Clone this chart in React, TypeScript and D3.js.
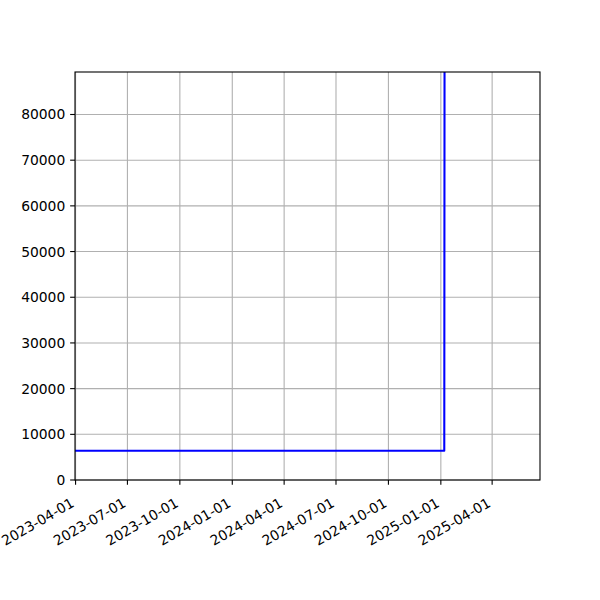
import React, { useRef, useEffect } from 'react';
import * as d3 from 'd3';

// Series
const dates = ['2023-03-31', '2025-01-07', '2025-01-08'];
const values = [6400, 6400, 180000];

// Axis ranges and ticks
const xStart = '2023-03-31';
const xEnd = '2025-06-24';
const xTickDates = [
  '2023-04-01', '2023-07-01', '2023-10-01', '2024-01-01', '2024-04-01',
  '2024-07-01', '2024-10-01', '2025-01-01', '2025-04-01',
];
const yMax = 89300;
const yTicks = [0, 10000, 20000, 30000, 40000, 50000, 60000, 70000, 80000];

export default function App() {
  const svgRef = useRef<SVGSVGElement>(null);

  useEffect(() => {
    if (!svgRef.current) return;

    const width = 600;
    const height = 600;
    const margin = { top: 72, right: 60, bottom: 120, left: 75 };
    const innerW = width - margin.left - margin.right;
    const innerH = height - margin.top - margin.bottom;

    const fontSize = 13.89;
    const tickLen = 4.86;
    const pad = 4.86;
    const font = '"DejaVu Sans", sans-serif';

    const parse = d3.utcParse('%Y-%m-%d');
    const points = dates.map((d, i) => ({ date: parse(d)!, value: values[i] }));

    const x = d3.scaleUtc()
      .domain([parse(xStart)!, parse(xEnd)!])
      .range([0, innerW]);

    const y = d3.scaleLinear()
      .domain([0, yMax])
      .range([innerH, 0]);

    const svg = d3.select(svgRef.current);
    svg.selectAll('*').remove();

    svg.append('rect')
      .attr('width', width)
      .attr('height', height)
      .attr('fill', '#ffffff');

    svg.append('defs')
      .append('clipPath')
      .attr('id', 'plot-clip')
      .append('rect')
      .attr('width', innerW)
      .attr('height', innerH);

    const g = svg.append('g')
      .attr('transform', `translate(${margin.left},${margin.top})`);

    // grid
    const xTicks = xTickDates.map(d => parse(d)!);
    g.append('g')
      .selectAll('line')
      .data(xTicks)
      .join('line')
      .attr('x1', d => x(d))
      .attr('x2', d => x(d))
      .attr('y1', 0)
      .attr('y2', innerH)
      .attr('stroke', '#b0b0b0')
      .attr('stroke-width', 1.1);

    g.append('g')
      .selectAll('line')
      .data(yTicks)
      .join('line')
      .attr('x1', 0)
      .attr('x2', innerW)
      .attr('y1', d => y(d))
      .attr('y2', d => y(d))
      .attr('stroke', '#b0b0b0')
      .attr('stroke-width', 1.1);

    // the line
    const line = d3.line<{ date: Date; value: number }>()
      .x(d => x(d.date))
      .y(d => y(d.value));

    g.append('path')
      .datum(points)
      .attr('clip-path', 'url(#plot-clip)')
      .attr('d', line)
      .attr('fill', 'none')
      .attr('stroke', '#0000ff')
      .attr('stroke-width', 2.08)
      .attr('stroke-linejoin', 'round')
      .attr('stroke-linecap', 'square');

    // frame
    g.append('rect')
      .attr('width', innerW)
      .attr('height', innerH)
      .attr('fill', 'none')
      .attr('stroke', '#000000')
      .attr('stroke-width', 1.1);

    // x ticks + rotated labels
    const fmt = d3.utcFormat('%Y-%m-%d');
    const xAxis = g.append('g');
    xAxis.selectAll('line')
      .data(xTicks)
      .join('line')
      .attr('x1', d => x(d))
      .attr('x2', d => x(d))
      .attr('y1', innerH)
      .attr('y2', innerH + tickLen)
      .attr('stroke', '#000000')
      .attr('stroke-width', 1.1);

    const labelTop = innerH + tickLen + pad;
    xAxis.selectAll('text')
      .data(xTicks)
      .join('text')
      .attr('transform', d => `translate(${x(d) - 0.5},${labelTop + 16}) rotate(-30)`)
      .attr('text-anchor', 'end')
      .style('font-family', font)
      .style('font-size', `${fontSize}px`)
      .style('fill', '#000000')
      .text(d => fmt(d));

    // y ticks + labels
    const yAxis = g.append('g');
    yAxis.selectAll('line')
      .data(yTicks)
      .join('line')
      .attr('x1', -tickLen)
      .attr('x2', 0)
      .attr('y1', d => y(d))
      .attr('y2', d => y(d))
      .attr('stroke', '#000000')
      .attr('stroke-width', 1.1);

    yAxis.selectAll('text')
      .data(yTicks)
      .join('text')
      .attr('x', -tickLen - pad)
      .attr('y', d => y(d))
      .attr('dy', '0.36em')
      .attr('text-anchor', 'end')
      .style('font-family', font)
      .style('font-size', `${fontSize}px`)
      .style('fill', '#000000')
      .text(d => String(d));
  }, []);

  return (
    <svg
      ref={svgRef}
      width={600}
      height={600}
      style={{ position: 'absolute', left: 0, top: 0 }}
    />
  );
}
